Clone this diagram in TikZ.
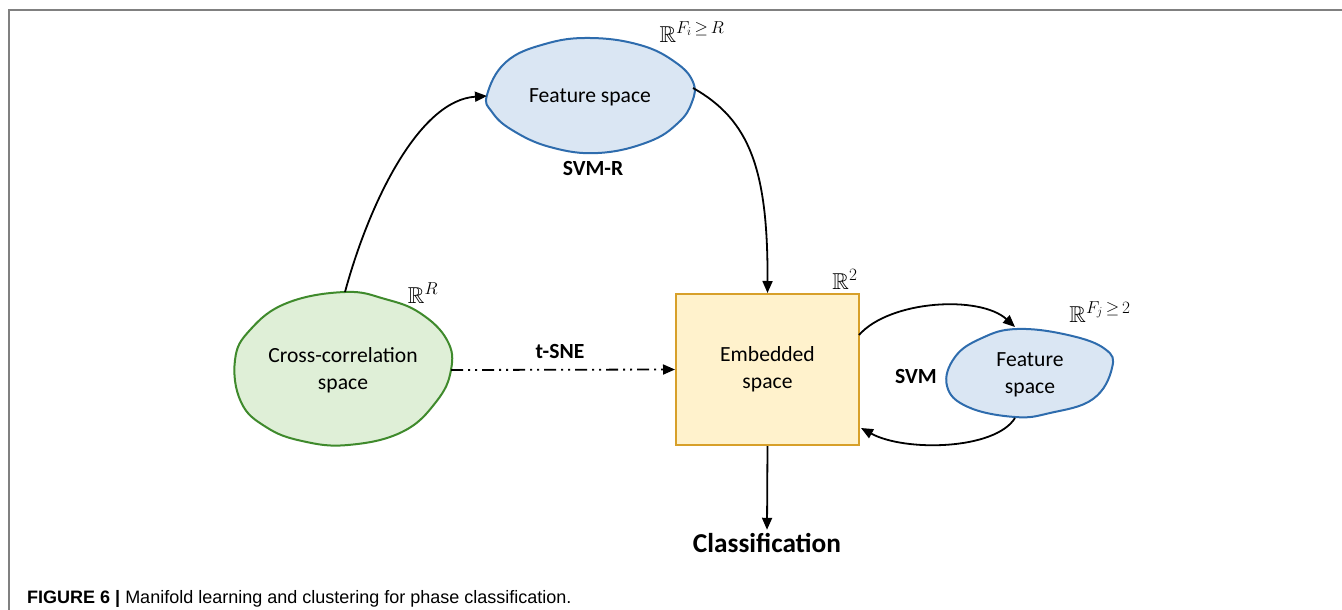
\documentclass[tikz,border=0pt]{standalone}
\usepackage{amsmath,amssymb}
\usepackage{fontspec}
\setmainfont{Carlito}
\newfontfamily\capfont{Liberation Sans}
\usetikzlibrary{positioning,arrows.meta}
\definecolor{featfill}{HTML}{DAE6F3}
\definecolor{featedge}{HTML}{2E6CAD}
\definecolor{corrfill}{HTML}{DFEFD7}
\definecolor{corredge}{HTML}{3F8A2C}
\definecolor{embfill}{HTML}{FFF2CC}
\definecolor{embedge}{HTML}{D7A02A}

\begin{document}
\begin{tikzpicture}[
    x=1pt, y=-1pt,
    blob/.style={
        line width=2pt,
        line join=round
    },
    txt/.style={
        font=\fontsize{21.6}{27}\selectfont,
        align=center
    },
    tag/.style={
        font=\fontsize{21.6}{27}\selectfont\bfseries
    },
    space/.style={
        font=\fontsize{23}{27}\selectfont
    },
    box/.style={
        rectangle,
        minimum width=183pt,
        minimum height=151pt,
        align=center,
        draw=embedge,
        fill=embfill,
        line width=2pt,
        font=\fontsize{21.6}{27}\selectfont
    },
    line/.style={
        -{Triangle[length=12pt,width=10pt]},
        line width=1.8pt
    }
]
\useasboundingbox (0,0) rectangle (1342,610);
\draw[gray, line width=1.5pt] (9,610) -- (9,10) -- (1342,10);

% blobs
\draw[blob, draw=featedge, fill=featfill] plot[smooth cycle, tension=0.7] coordinates {
    (487,95) (506,62) (545,44) (590,38) (640,45) (675,62) (693,82) (692,102)
    (678,123) (648,142) (598,153) (550,147) (512,130) (492,112)};
\draw[blob, draw=corredge, fill=corrfill] plot[smooth cycle, tension=0.7] coordinates {
    (345,292) (385,299) (420,313) (447,340) (451,370) (436,402) (402,432)
    (348,445) (302,441) (266,427) (241,402) (235,360) (250,330) (287,303)};
\draw[blob, draw=featedge, fill=featfill] plot[smooth cycle, tension=0.7] coordinates {
    (1017,329) (1068,335) (1105,349) (1112,368) (1093,399) (1050,413) (1015,417)
    (968,407) (947,386) (955,357) (982,338)};

% nodes
\node[txt] (feat-i) at (590,97) {Feature space};
\node[txt] (corr) at (343,370) {Cross-correlation\\space};
\node[box] (emb) at (767.5,369.5) {Embedded\\space};
\node[txt] (feat-j) at (1030,375) {Feature\\space};
\node[tag] (svmr) at (593,168) {SVM-R};
\node[tag] (tsne) at (560,351) {t-SNE};
\node[tag] (svm) at (916,376) {SVM};
\node[font=\fontsize{27.3}{32}\selectfont\bfseries] (cls) at (767,543) {Classification};
\node[space] (r-i) at (692,32) {$\mathbb{R}^{F_i\,\geq\,R}$};
\node[space] (r-r) at (423,293) {$\mathbb{R}^R$};
\node[space] (r-2) at (845,279) {$\mathbb{R}^2$};
\node[space] (r-j) at (1100,312) {$\mathbb{R}^{F_j\,\geq\,2}$};
\node[anchor=base west, inner sep=0pt, font=\capfont\fontsize{18}{21}\selectfont] (cap) at (27,603)
    {\textbf{FIGURE 6 |} Manifold learning and clustering for phase classification.};

% attach points on the blobs
\coordinate (corr-n) at (345,292);
\coordinate (corr-e) at (451,370);
\coordinate (feat-i-w) at (487,96);
\coordinate (feat-i-e) at (693,88);
\coordinate (feat-j-n) at (1015,327);
\coordinate (feat-j-s) at (1015,418);
\coordinate (emb-ne) at (859,335);
\coordinate (emb-se) at (861,428);

% connectors
\draw[line] (corr-n) .. controls (370,200) and (420,100) .. (feat-i-w);
\draw[line] (feat-i-e) .. controls (750,120) and (768,170) .. (emb.north);
\draw[line, dash pattern=on 12pt off 5pt on 2pt off 5pt on 2pt off 5pt] (corr-e) -- (emb.west);
\draw[line] (emb-ne) .. controls (890,300) and (980,295) .. (feat-j-n);
\draw[line] (feat-j-s) .. controls (995,450) and (905,452) .. (emb-se);
\draw[line] (emb.south) -- (cls.north);

\end{tikzpicture}
\end{document}
